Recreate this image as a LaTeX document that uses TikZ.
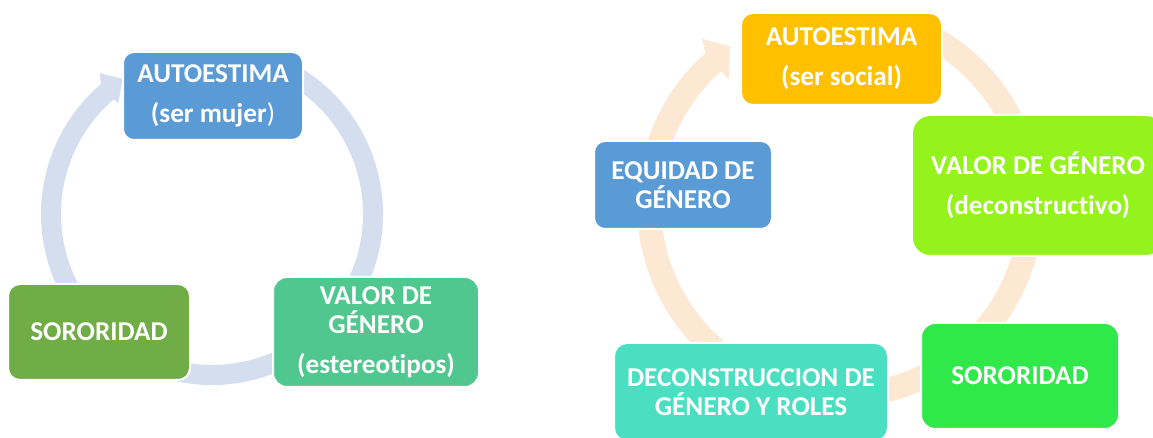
\documentclass[tikz,border=0pt]{standalone}
\usepackage{fontspec}
\setmainfont{Carlito}[Ligatures=NoCommon]
\definecolor{ringL}{HTML}{D4DEEF}
\definecolor{ringR}{HTML}{FDE9D3}
\definecolor{cBlue}{HTML}{5B9BD5}
\definecolor{cGreenL}{HTML}{70AD47}
\definecolor{cTealL}{HTML}{50C78E}
\definecolor{cGold}{HTML}{FFC000}
\definecolor{cLime}{HTML}{94F21D}
\definecolor{cGreenR}{HTML}{31E84B}
\definecolor{cTealR}{HTML}{4ADFC1}
\begin{document}
\begin{tikzpicture}[x=1pt,y=1pt,
  box/.style={rounded corners=#1, draw=white, line width=2pt, inner sep=0pt,
    align=center, text=white, font=\bfseries\fontsize{27.2}{28.5}\selectfont},
  box/.default=12pt]
\useasboundingbox (0,0) rectangle (1153,438);
% ---------- left cycle ----------
\coordinate (lc) at (212,224);
\draw[ringL, line width=20pt] ([shift={(lc)}]62:161) arc[start angle=62, end angle=-229.5, radius=161];
\fill[ringL] ([shift={(lc)}]130.6:171) -- ([shift={(lc)}]128.5:180) -- ([shift={(lc)}]123.5:162)
  -- ([shift={(lc)}]130.3:145) -- ([shift={(lc)}]130.6:151) -- cycle;
\node[box=11pt, fill=cBlue, minimum width=180pt, minimum height=88pt] (a1) at (213,342)
  {AUTOESTIMA\\[11.5pt](ser mujer\textmd{)}};
\node[box=12pt, fill=cGreenL, minimum width=182pt, minimum height=96pt] (s1) at (99,106)
  {SORORIDAD};
\node[box=14pt, fill=cTealL, minimum width=206pt, minimum height=110pt] (v1) at (376,106)
  {VALOR DE\\GÉNERO\\[11.5pt](estereotipos)};
% ---------- right cycle ----------
\coordinate (rc) at (840,233);
\draw[ringR, line width=24pt] ([shift={(rc)}]62:191) arc[start angle=62, end angle=-228.5, radius=191];
\fill[ringR] ([shift={(rc)}]131.6:203) -- ([shift={(rc)}]129.7:216) -- ([shift={(rc)}]124.7:193)
  -- ([shift={(rc)}]131.4:168) -- ([shift={(rc)}]131.6:179) -- cycle;
\node[box=12pt, fill=cGold, minimum width=201pt, minimum height=92pt] (a2) at (841.5,379)
  {AUTOESTIMA\\[11.5pt](ser social)};
\node[box=18pt, fill=cLime, minimum width=252pt, minimum height=141pt] (v2) at (1038,252.5)
  {VALOR DE GÉNERO\\[11.5pt](deconstructivo)};
\node[box=14pt, fill=cGreenR, minimum width=198pt, minimum height=106pt] (s2) at (1020,62)
  {SORORIDAD};
\node[box=13pt, fill=cTealR, minimum width=274pt, minimum height=98pt] (d2) at (751,46)
  {DECONSTRUCCION DE\\GÉNERO Y ROLES};
\node[box=11pt, fill=cBlue, minimum width=178pt, minimum height=88pt] (e2) at (683,253)
  {EQUIDAD DE\\GÉNERO};
\end{tikzpicture}
\end{document}
